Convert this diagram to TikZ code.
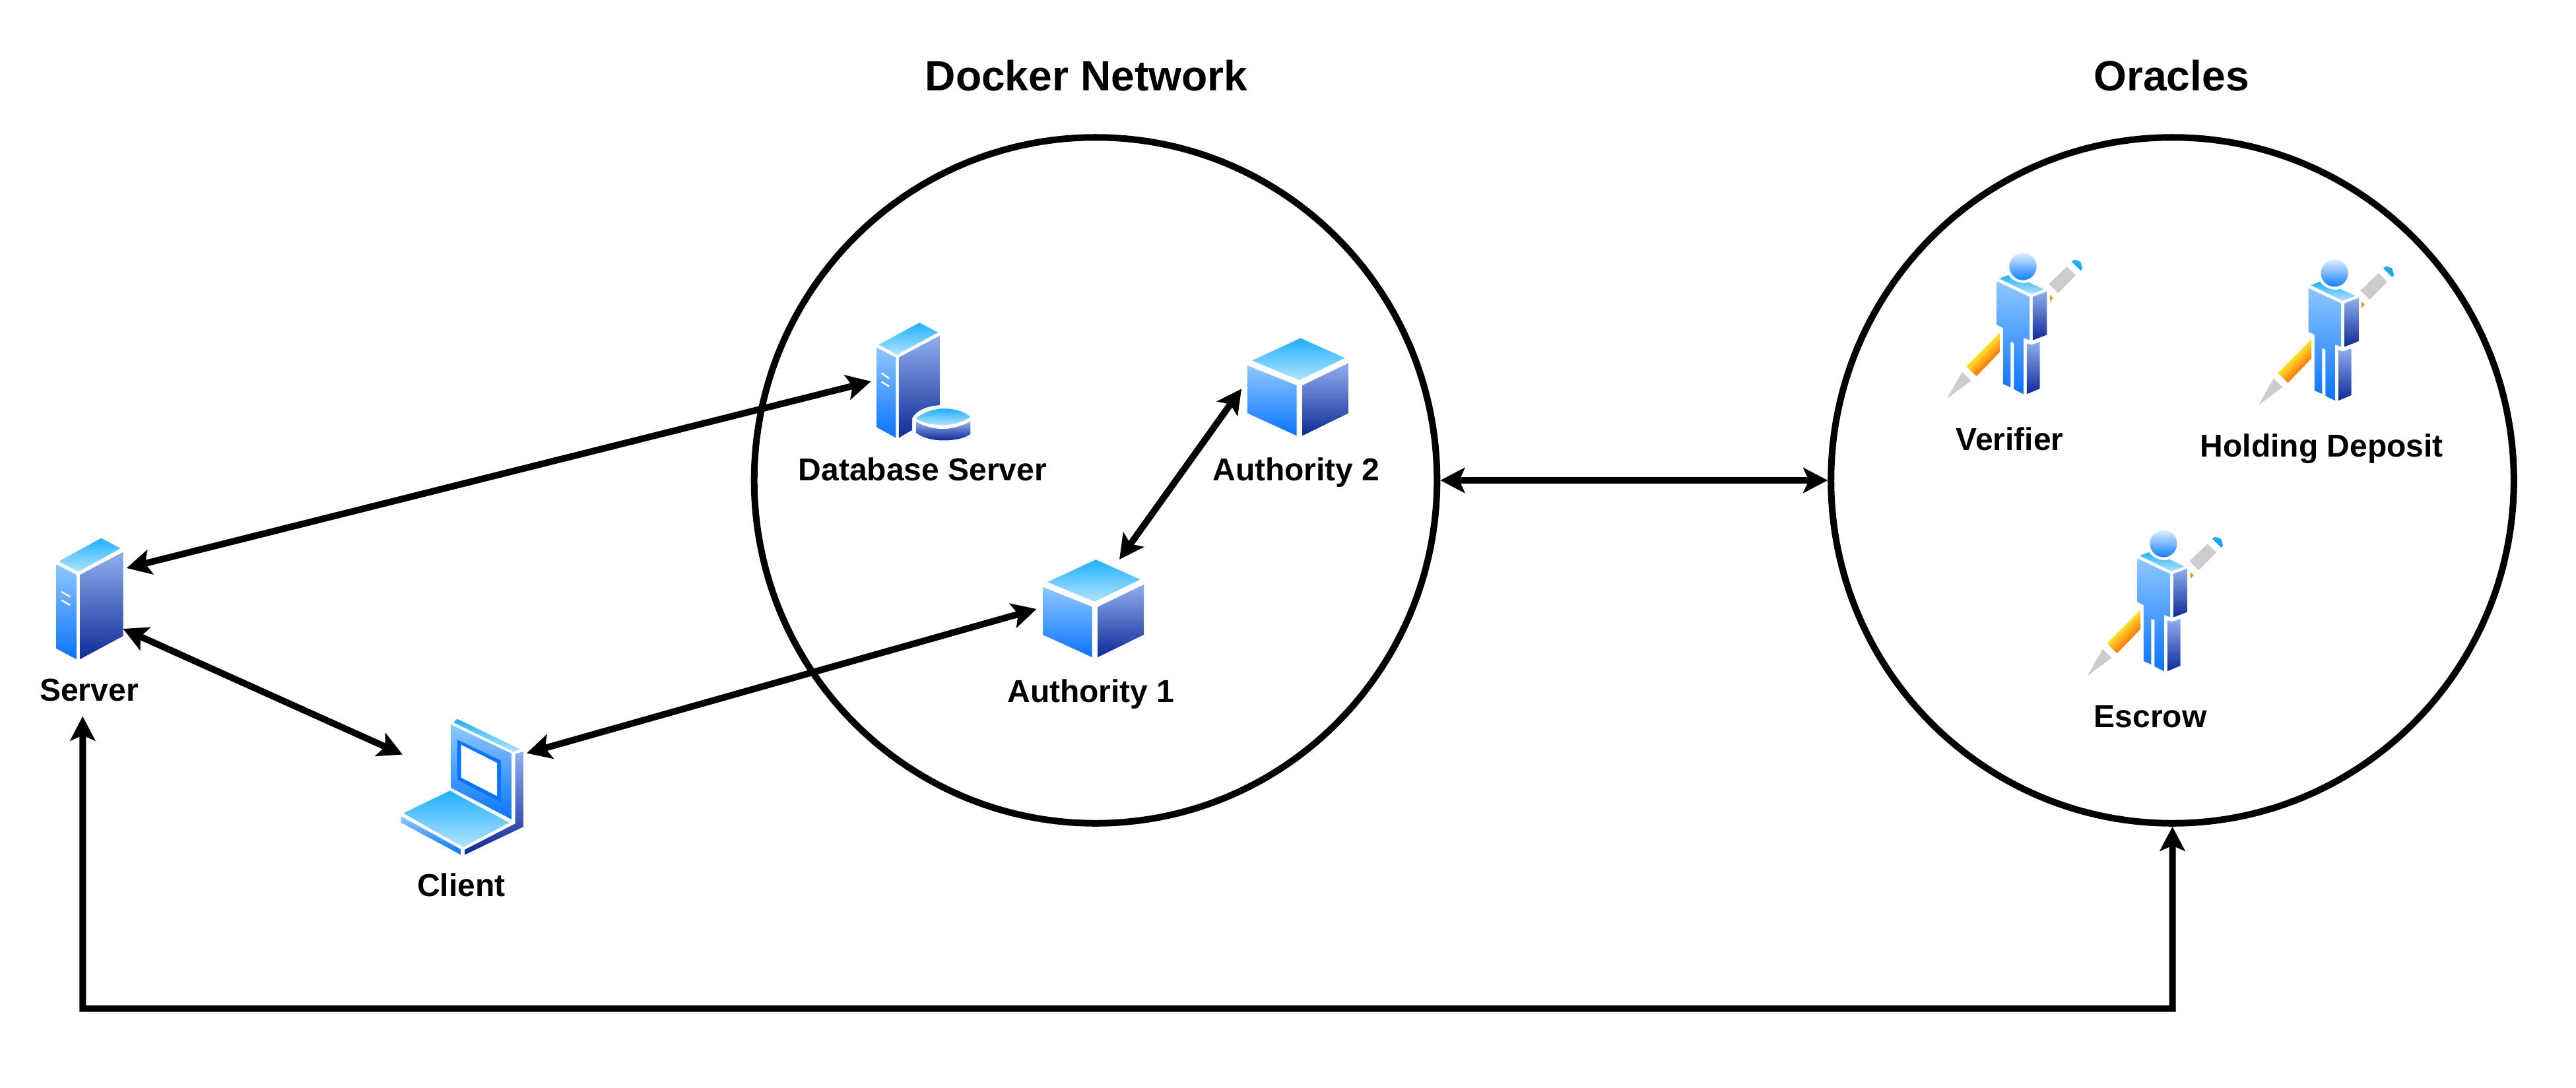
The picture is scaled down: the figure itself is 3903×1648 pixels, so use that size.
\documentclass[tikz,border=0pt]{standalone}
\usepackage{fontspec}
\setmainfont{Liberation Sans}
\usetikzlibrary{arrows.meta,shapes.geometric}
\definecolor{topA}{HTML}{1FB0FF}
\definecolor{topB}{HTML}{B0E4FF}
\definecolor{leftA}{HTML}{8FC7FF}
\definecolor{leftB}{HTML}{0A74FF}
\definecolor{rightA}{HTML}{90AFEE}
\definecolor{rightB}{HTML}{0E2A98}
\definecolor{headA}{HTML}{E2EEFF}
\definecolor{headB}{HTML}{1080FF}
\definecolor{penA}{HTML}{FFE428}
\definecolor{penB}{HTML}{FF7F10}
\definecolor{penGray}{HTML}{CDCDCD}
\definecolor{penBlue}{HTML}{1CA8FF}
\definecolor{penDot}{HTML}{FF8A10}
\tikzset{
  facetop/.style={top color=topA,bottom color=topB},
  faceleft/.style={top color=leftA,bottom color=leftB},
  faceright/.style={top color=rightA,bottom color=rightB},
  facehead/.style={top color=headA,bottom color=headB},
  slot/.style={draw=white,line width=0.7pt},
  region/.style={draw=black,ellipse,line width=2.845pt,minimum width=294.2pt,minimum height=295.6pt,inner sep=0pt,outer sep=1.42pt},
  iconbox/.style={inner sep=0pt,outer sep=0pt},
  lbl/.style={anchor=base,inner sep=0pt,font=\bfseries\fontsize{13.65pt}{15pt}\selectfont},
  ttl/.style={anchor=base,inner sep=0pt,font=\bfseries\fontsize{18.25pt}{20pt}\selectfont},
  lnk/.style={draw=black,line width=2.845pt,>={Stealth[length=10.5pt,width=10.8pt,inset=2.3pt]},<->},
  zoomA/.style={x=0.00574cm,y=-0.003954cm},
  zoomB/.style={x=0.00574cm,y=-0.003827cm},
  zoomC/.style={x=0.003333cm,y=-0.003333cm}
}
\newcommand{\cubeicon}[2]{%
  \begin{scope}[shift={(1250+#1,450+#2)},zoomA]
    \shade[facetop] (715,1007)--(832,1083)--(712,1168)--(587,1093)--cycle;
    \shade[faceleft] (575,1112)--(705,1188)--(705,1381)--(575,1295)--cycle;
    \shade[faceright] (720,1188)--(841,1103)--(841,1295)--(720,1381)--cycle;
  \end{scope}}
\newcommand{\personicon}[2]{%
  \begin{scope}[shift={(2900+#1,350+#2)},zoomC]
    \foreach \t in {0,...,15}{%
      \pgfmathsetmacro{\pct}{100-\t*100/15}%
      \fill[fill=penA!\pct!penB] (238+46*\t/16,616+44*\t/16)--(390,464+86*\t/16)--(390,550)--(284,660)--cycle;
    }
    \fill[penGray] (150,763)--(219,642)--(260,682)--cycle;
    \fill[penGray] (614,242)--(696,162)--(736,202)--(656,283)--cycle;
    \fill[penBlue] (718,140)--(730,131)--(758,140)--(767,172)--(758,180)--cycle;
    \fill[penDot] (619,291)--(633,306)--(619,321)--cycle;
    \shade[facehead] (496,162) circle (62);
    \shade[facetop] (388,217)--(430,201) .. controls (445,228) and (490,245) .. (522,234)--(592,266)--(533,288)--cycle;
    \shade[faceleft] (377,230)--(526,300)--(526,497)--(498,487)--(498,743)--(455,721)--(455,510)--(440,505)--(440,712)--(405,697)--(405,442)--(377,428)--cycle;
    \shade[faceright] (540,300)--(605,275)--(605,473)--(540,498)--cycle;
    \shade[faceright] (513,512)--(535,518)--(573,505)--(573,718)--(513,743)--cycle;
  \end{scope}}
\begin{document}
\begin{tikzpicture}[x=0.01cm,y=-0.01cm]
\fill[white] (0,0) rectangle (3903,1648);
\useasboundingbox (0,0) rectangle (3903,1648);
% regions
\node[region] (docker) at (1660,728) {};
\node[region] (oracles) at (3291.5,728) {};
\node[ttl] (dockertitle) at (1646,137) {Docker Network};
\node[ttl] (oraclestitle) at (3290,137) {Oracles};
% icon boxes
\node[iconbox,minimum width=28.7pt,minimum height=52.1pt] (srv) at (136,907) {};
\node[iconbox,minimum width=52.9pt,minimum height=58.6pt] (client) at (700,1192) {};
\node[iconbox,minimum width=40.5pt,minimum height=50.8pt] (db) at (1399,578) {};
\node[iconbox,minimum width=43.5pt,minimum height=42.1pt] (auth1) at (1656,922) {};
\node[iconbox,minimum width=43.5pt,minimum height=42.1pt] (auth2) at (1966,586.3) {};
% server and client
\begin{scope}[shift={(0,780)},zoomB]
  \shade[facetop] (267,93)--(318,133)--(207,226)--(155,185)--cycle;
  \shade[faceleft] (149,197)--(202,238)--(202,572)--(149,530)--cycle;
  \shade[faceright] (211,238)--(325,148)--(325,480)--(211,572)--cycle;
  \draw[slot] (162,305)--(185,325);
  \draw[slot] (162,338)--(185,358);
  \shade[facetop] (1207,808)--(1373,928)--(1355,938)--(1197,822)--cycle;
  \shade[faceleft] (1190,830)--(1350,945)--(1350,1205)--(1190,1080)--cycle;
  \fill[leftB] (1207,890)--(1322,973)--(1322,1138)--(1207,1048)--cycle;
  \fill[white] (1217,910)--(1312,982)--(1312,1113)--(1217,1040)--cycle;
  \shade[faceright] (1360,947)--(1381,937)--(1381,1235)--(1227,1345)--(1227,1325)--(1360,1222)--cycle;
  \shade[facetop] (1187,1092)--(1344,1218)--(1222,1315)--(1065,1181)--cycle;
  \shade[faceleft] (1058,1193)--(1216,1323)--(1216,1345)--(1058,1218)--cycle;
\end{scope}
% database server
\begin{scope}[shift={(1250,450)},zoomA]
  \shade[facetop] (249,99)--(298,136)--(190,222)--(142,183)--cycle;
  \shade[faceleft] (136,194)--(187,232)--(187,540)--(136,499)--cycle;
  \shade[faceright] (195,232)--(303,148)--(303,415) .. controls (270,418) and (240,435) .. (230,465)--(230,510)--(195,540)--cycle;
  \draw[slot] (149,292)--(169,312);
  \draw[slot] (149,325)--(169,343);
  \shade[facetop] (240,465) .. controls (262,440) and (290,428) .. (315,428) .. controls (345,428) and (370,442) .. (384,460) .. controls (360,482) and (335,492) .. (305,491) .. controls (280,490) and (255,482) .. (240,465)--cycle;
  \shade[faceright] (240,478) .. controls (262,498) and (290,506) .. (310,506) .. controls (340,506) and (365,492) .. (384,478)--(384,525) .. controls (370,543) and (340,550) .. (312,550) .. controls (285,550) and (255,540) .. (240,520)--cycle;
\end{scope}
\cubeicon{0}{0}
\cubeicon{310}{-335.7}
\personicon{0}{0}
\personicon{472}{10}
\personicon{213}{420}
% labels
\node[lbl] (srvlabel) at (135,1062) {Server};
\node[lbl] (clientlabel) at (699,1358) {Client};
\node[lbl] (dblabel) at (1398,728) {Database Server};
\node[lbl] (auth2label) at (1964,728) {Authority 2};
\node[lbl] (auth1label) at (1653,1064) {Authority 1};
\node[lbl] (verifierlabel) at (3045,682) {Verifier};
\node[lbl] (holdinglabel) at (3517.8,692) {Holding Deposit};
\node[lbl] (escrowlabel) at (3258,1102) {Escrow};
% connectors
\coordinate (railwest) at (125.3,1528.5);
\coordinate (raileast) at (3291.5,1528.5);
\draw[lnk] ([shift={(5.4,-46)}]srv.east) -- ([shift={(-8,0)}]db.west);
\draw[lnk] ([shift={(0,46)}]srv.east) -- ([shift={(3,-48.4)}]client.west);
\draw[lnk] ([shift={(5,-50.4)}]client.east) -- ([shift={(-9,1)}]auth1.west);
\draw[lnk] ([shift={(40,0)}]auth1.north) -- ([shift={(-8.5,3)}]auth2.west);
\draw[lnk] (docker.east) -- (oracles.west);
\draw[lnk] ([shift={(-10.7,87)}]srv.south) -- (railwest) -- (raileast) -- (oracles.south);
\end{tikzpicture}
\end{document}
